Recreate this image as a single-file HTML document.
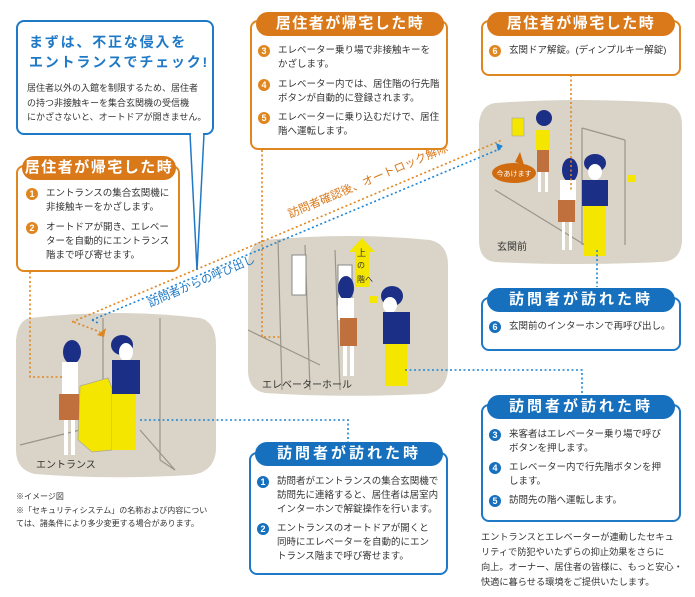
<!DOCTYPE html>
<html><head><meta charset="utf-8"><style>
*{margin:0;padding:0;box-sizing:border-box}
body{width:695px;height:597px;background:#fff;position:relative;overflow:hidden;font-family:"Liberation Sans","Noto Sans CJK JP",sans-serif;color:#333}
.box{position:absolute;border:2px solid #e0861e;border-radius:8px;background:#fff}
.box.b{border-color:#1f79c6}
.hd{position:absolute;height:24px;border-radius:12px;background:#d9791a;color:#fff;font-size:15px;line-height:24px;text-align:center;letter-spacing:1.5px;font-weight:bold;white-space:nowrap}
.hd.b{background:#1670bd;letter-spacing:3px}
.it{position:absolute;font-size:9.5px;line-height:14px;padding-left:22px;letter-spacing:0;white-space:nowrap}
.n{position:absolute;left:2px;top:1px;width:12px;height:12px;border-radius:50%;background:#e0861e;color:#fff;font-size:9px;line-height:12px;text-align:center;font-weight:bold}
.b .n,.n.b{background:#1670bd}
.t{position:absolute;font-size:9.5px;line-height:15px;white-space:nowrap}
</style></head><body>
<svg width="695" height="597" style="position:absolute;left:0;top:0">
<path d="M30,318 Q120,308 200,318 Q216,322 216,345 L216,450 Q214,473 190,475 Q110,480 35,474 Q16,470 16,450 L16,340 Q18,320 30,318Z" fill="#d9d4c7"/>
<path d="M265,240 Q350,232 430,240 Q448,244 448,265 L448,370 Q446,392 425,394 Q340,398 265,393 Q248,390 248,370 L248,262 Q250,242 265,240Z" fill="#d9d4c7"/>
<path d="M495,103 Q580,97 665,103 Q682,106 682,125 L682,242 Q680,262 660,262 Q580,266 495,262 Q479,260 479,240 L479,123 Q481,105 495,103Z" fill="#d9d4c7"/>
<g stroke="#9a958a" stroke-width="1.2" fill="none">
<line x1="20" y1="445" x2="80" y2="430"/><line x1="103" y1="318" x2="103" y2="420"/><line x1="160" y1="318" x2="160" y2="460"/><line x1="160" y1="460" x2="175" y2="470"/>
<line x1="140" y1="430" x2="175" y2="470"/>
<line x1="278" y1="240" x2="282" y2="390"/><line x1="305" y1="245" x2="310" y2="390"/><line x1="335" y1="250" x2="340" y2="390"/><line x1="248" y1="330" x2="320" y2="365"/>
<line x1="495" y1="190" x2="585" y2="245"/><line x1="582" y1="128" x2="625" y2="140"/><line x1="582" y1="128" x2="582" y2="245"/><line x1="625" y1="140" x2="625" y2="245"/>
</g>
<rect x="292" y="255" width="14" height="40" fill="#fff" stroke="#888"/><rect x="338" y="265" width="14" height="40" fill="#fff" stroke="#888"/>
<polygon points="362,238 375,252 369,252 369,287 355,287 355,252 349,252" fill="#f5e600"/>
<text x="357" y="256" font-size="9" fill="#333" font-family="Liberation Sans,Noto Sans CJK JP,sans-serif">上</text>
<text x="357" y="268" font-size="8" fill="#333" font-family="Liberation Sans,Noto Sans CJK JP,sans-serif">の</text>
<text x="357" y="282" font-size="8" fill="#333" font-family="Liberation Sans,Noto Sans CJK JP,sans-serif">階へ</text>
<polygon points="80,386 108,378 112,388 112,450 92,452 78,440" fill="#f5e600" stroke="#aa9" stroke-width=".8"/>
<ellipse cx="72" cy="352" rx="9" ry="12" fill="#1c2f86"/><rect x="62" y="362" width="16" height="34" fill="#fff"/><rect x="59" y="394" width="20" height="26" fill="#c0703c"/><rect x="64" y="420" width="4" height="35" fill="#fff"/><rect x="71" y="420" width="4" height="35" fill="#fff"/>
<ellipse cx="122" cy="345" rx="11" ry="10" fill="#1c2f86"/><ellipse cx="126" cy="352" rx="7" ry="9" fill="#fff"/><rect x="112" y="360" width="28" height="34" fill="#1c2f86"/><rect x="112" y="394" width="24" height="56" fill="#f5e600"/>
<ellipse cx="346" cy="288" rx="8" ry="12" fill="#1c2f86"/><rect x="338" y="298" width="16" height="22" fill="#fff"/><rect x="340" y="318" width="17" height="28" fill="#c0703c"/><rect x="343" y="346" width="4" height="30" fill="#fff"/><rect x="350" y="346" width="4" height="30" fill="#fff"/>
<ellipse cx="392" cy="296" rx="11" ry="10" fill="#1c2f86"/><ellipse cx="390" cy="305" rx="7" ry="8" fill="#fff"/><rect x="383" y="312" width="27" height="32" fill="#1c2f86"/><rect x="385" y="344" width="22" height="42" fill="#f5e600"/>
<rect x="370" y="296" width="7" height="7" fill="#f5e600"/>
<rect x="512" y="118" width="12" height="18" fill="#f5e600" stroke="#aa9" stroke-width=".6"/>
<ellipse cx="544" cy="118" rx="8" ry="8" fill="#1c2f86"/><rect x="536" y="130" width="14" height="20" fill="#f5e600"/><rect x="537" y="150" width="12" height="22" fill="#c0703c"/><rect x="538" y="172" width="3" height="20" fill="#fff"/><rect x="545" y="172" width="3" height="20" fill="#fff"/>
<ellipse cx="570" cy="170" rx="8" ry="12" fill="#1c2f86"/><rect x="560" y="180" width="16" height="20" fill="#fff"/><rect x="558" y="200" width="17" height="22" fill="#c0703c"/><rect x="562" y="222" width="3" height="28" fill="#fff"/><rect x="569" y="222" width="3" height="28" fill="#fff"/>
<ellipse cx="595" cy="163" rx="11" ry="9" fill="#1c2f86"/><ellipse cx="595" cy="172" rx="7" ry="8" fill="#fff"/><rect x="582" y="180" width="26" height="26" fill="#1c2f86"/><rect x="584" y="206" width="22" height="50" fill="#f5e600"/>
<rect x="628" y="175" width="7" height="7" fill="#f5e600"/>
<ellipse cx="514" cy="173" rx="22" ry="10" fill="#d06b10"/><polygon points="515,162 520,152 524,165" fill="#d06b10"/>
<text x="514" y="176" font-size="7" fill="#fff" text-anchor="middle" font-family="Liberation Sans,Noto Sans CJK JP,sans-serif">今あけます</text>
<g fill="none" stroke-width="1.6" stroke-dasharray="2,2.5">
<path d="M30,272 V377 H63" stroke="#e0861e"/>
<path d="M262,150 V337 H280" stroke="#e0861e"/>
<path d="M571,75 V190" stroke="#e0861e"/>
<path d="M72,322 L502,140" stroke="#e0861e"/>
<path d="M74,322 L100,332" stroke="#e0861e"/>
<path d="M92,320 L502,148" stroke="#1f86d4"/>
<path d="M92,320 L100,324" stroke="#1f86d4"/>
<path d="M405,370 H582 V393" stroke="#1f86d4"/>
<path d="M140,420 H348 V442" stroke="#1f86d4"/>
<path d="M597,250 V287" stroke="#1f86d4"/>
</g>
<polygon points="97,335 106,328 104,337" fill="#e0861e"/>
<polygon points="503,146 496,143 498,151" fill="#1f86d4"/>
<polygon points="190,134 204,134 197,270" fill="#fff" stroke="#1f79c6" stroke-width="1.5"/>
<text font-size="11.5" fill="#d9791a" font-family="Liberation Sans,Noto Sans CJK JP,sans-serif" transform="translate(290,218) rotate(-23)">訪問者確認後、オートロック解除</text>
<text font-size="11.5" fill="#1f79c6" font-family="Liberation Sans,Noto Sans CJK JP,sans-serif" transform="translate(150,307) rotate(-23)">訪問者からの呼び出し</text>
<g font-size="10" fill="#333" font-family="Liberation Sans,Noto Sans CJK JP,sans-serif">
<text x="36" y="468">エントランス</text><text x="262" y="388">エレベーターホール</text><text x="497" y="250">玄関前</text>
</g>
</svg>

<div class="box b" style="left:16px;top:20px;width:198px;height:115px">
<div style="position:absolute;left:11px;top:10px;color:#1f79c6;font-size:14px;line-height:20px;font-weight:bold;letter-spacing:1.8px;white-space:nowrap">まずは、不正な侵入を<br>エントランスでチェック!</div>
<div class="t" style="left:9px;top:59px;font-size:9px;line-height:14.5px">居住者以外の入館を制限するため、居住者<br>の持つ非接触キーを集合玄関機の受信機<br>にかざさないと、オートドアが開きません。</div>
</div>
<div style="position:absolute;left:191px;top:131px;width:12px;height:6px;background:#fff"></div>

<div class="box" style="left:16px;top:165px;width:164px;height:107px"></div>
<div class="hd" style="left:22px;top:156px;width:154px">居住者が帰宅した時</div>
<div class="it" style="left:24px;top:187px"><span class="n">1</span>エントランスの集合玄関機に<br>非接触キーをかざします。</div>
<div class="it" style="left:24px;top:221px"><span class="n">2</span>オートドアが開き、エレベー<br>ターを自動的にエントランス<br>階まで呼び寄せます。</div>

<div class="box" style="left:250px;top:20px;width:198px;height:130px"></div>
<div class="hd" style="left:256px;top:12px;width:188px">居住者が帰宅した時</div>
<div class="it" style="left:256px;top:44px"><span class="n">3</span>エレベーター乗り場で非接触キーを<br>かざします。</div>
<div class="it" style="left:256px;top:78px"><span class="n">4</span>エレベーター内では、居住階の行先階<br>ボタンが自動的に登録されます。</div>
<div class="it" style="left:256px;top:111px"><span class="n">5</span>エレベーターに乗り込むだけで、居住<br>階へ運転します。</div>

<div class="box" style="left:481px;top:20px;width:200px;height:56px"></div>
<div class="hd" style="left:487px;top:12px;width:188px">居住者が帰宅した時</div>
<div class="it" style="left:487px;top:44px"><span class="n">6</span>玄関ドア解錠。(ディンプルキー解錠)</div>

<div class="box b" style="left:481px;top:297px;width:200px;height:54px"></div>
<div class="hd b" style="left:487px;top:288px;width:188px">訪問者が訪れた時</div>
<div class="it" style="left:487px;top:320px"><span class="n b">6</span>玄関前のインターホンで再呼び出し。</div>

<div class="box b" style="left:481px;top:404px;width:200px;height:118px"></div>
<div class="hd b" style="left:487px;top:395px;width:188px">訪問者が訪れた時</div>
<div class="it" style="left:487px;top:428px"><span class="n b">3</span>来客者はエレベーター乗り場で呼び<br>ボタンを押します。</div>
<div class="it" style="left:487px;top:461px"><span class="n b">4</span>エレベーター内で行先階ボタンを押<br>します。</div>
<div class="it" style="left:487px;top:494px"><span class="n b">5</span>訪問先の階へ運転します。</div>

<div class="box b" style="left:249px;top:452px;width:199px;height:123px"></div>
<div class="hd b" style="left:255px;top:442px;width:188px">訪問者が訪れた時</div>
<div class="it" style="left:255px;top:475px"><span class="n b">1</span>訪問者がエントランスの集合玄関機で<br>訪問先に連絡すると、居住者は居室内<br>インターホンで解錠操作を行います。</div>
<div class="it" style="left:255px;top:522px"><span class="n b">2</span>エントランスのオートドアが開くと<br>同時にエレベーターを自動的にエン<br>トランス階まで呼び寄せます。</div>

<div class="t" style="left:481px;top:530px;font-size:9.2px">エントランスとエレベーターが連動したセキュ<br>リティで防犯やいたずらの抑止効果をさらに<br>向上。オーナー、居住者の皆様に、もっと安心・<br>快適に暮らせる環境をご提供いたします。</div>
<div class="t" style="left:16px;top:490px;font-size:8px;line-height:13.5px">※イメージ図<br>※「セキュリティシステム」の名称および内容につい<br>ては、諸条件により多少変更する場合があります。</div>
</body></html>
